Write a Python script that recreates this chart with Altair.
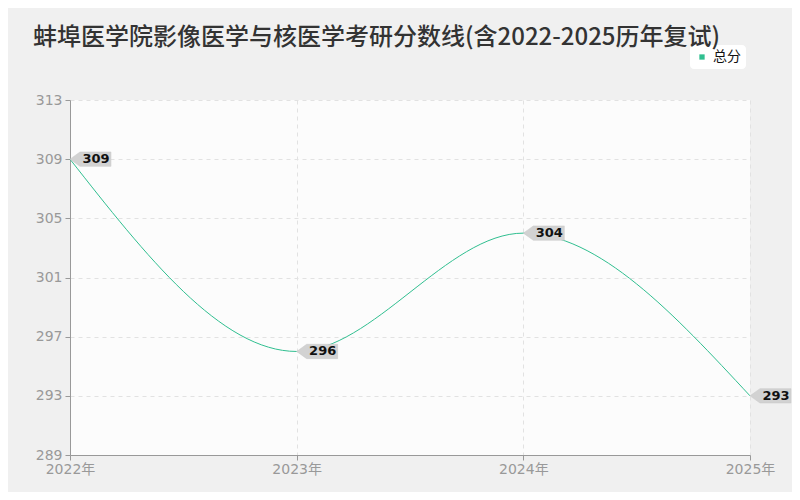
import altair as alt
import pandas as pd

years = [2022, 2023, 2024, 2025]
scores = [309, 296, 304, 293]
series_name = "总分"
title_text = "蚌埠医学院影像医学与核医学考研分数线(含2022-2025历年复试)"
y_ticks = [289, 293, 297, 301, 305, 309, 313]

df = pd.DataFrame({"year": years, "score": scores, "series": [series_name] * len(years)})

line_color = "#30bf90"
tag_path = "M0,0 L1,-0.72 L4.1,-0.72 L4.1,0.72 L1,0.72 Z"

x_enc = alt.X("year:Q", scale=alt.Scale(domain=[2022, 2025], nice=False, zero=False),
              axis=alt.Axis(values=years, labelExpr="datum.value + '年'", title=None,
                            grid=True, gridDash=[4, 4], gridColor="#e2e2e2",
                            domainColor="#999999", tickColor="#999999", tickSize=5,
                            labelColor="#999999", labelFontSize=14, labelPadding=2,
                            labelFlush=False, labelOverlap=False,
                            labelFont="DejaVu Sans, Noto Sans CJK SC"))
y_enc = alt.Y("score:Q", scale=alt.Scale(domain=[289, 313], nice=False, zero=False),
              axis=alt.Axis(values=y_ticks, title=None, grid=True, gridDash=[4, 4],
                            gridColor="#e2e2e2", domainColor="#999999", tickColor="#999999",
                            tickSize=5, labelColor="#999999", labelFontSize=14, labelPadding=3,
                            labelFlush=False, labelOverlap=False,
                            labelFont="DejaVu Sans"))

line = alt.Chart(df).mark_line(interpolate="monotone", strokeWidth=1).encode(
    x=x_enc, y=y_enc,
    color=alt.Color("series:N", scale=alt.Scale(range=[line_color]),
                    legend=alt.Legend(title=None, orient="none", legendX=620, legendY=-55,
                                      fillColor="white", padding=5, cornerRadius=4,
                                      symbolType="square", symbolSize=28,
                                      symbolFillColor=line_color, symbolStrokeWidth=0,
                                      labelFontSize=14, labelColor="#111111",
                                      labelFont="Noto Sans CJK SC"))
)

tags = alt.Chart(df).mark_point(shape=tag_path, size=400, filled=True, fill="#d2d2d2",
                                stroke="#c8c8c8", strokeWidth=0.5, opacity=1).encode(
    x="year:Q", y="score:Q")

labels = alt.Chart(df).mark_text(dx=26, fontSize=13, fontWeight="bold", color="#111111",
                                 font="DejaVu Sans", baseline="middle").encode(
    x="year:Q", y="score:Q", text="score:Q")

chart = alt.layer(line, tags, labels).properties(
    width=680, height=355,
    background="#f0f0f0",
    padding={"left": 62, "top": 92, "right": 42, "bottom": 37},
    autosize=alt.AutoSizeParams(type="none"),
    title=alt.TitleParams(title_text, anchor="start", frame="group", dx=-37, offset=0, dy=5,
                          fontSize=24, fontWeight=500, color="#333333",
                          font="Noto Sans CJK SC"),
).configure_view(fill="#fcfcfc", stroke=None)

chart.save("out.html", embed_options={"renderer": "svg", "actions": False})
